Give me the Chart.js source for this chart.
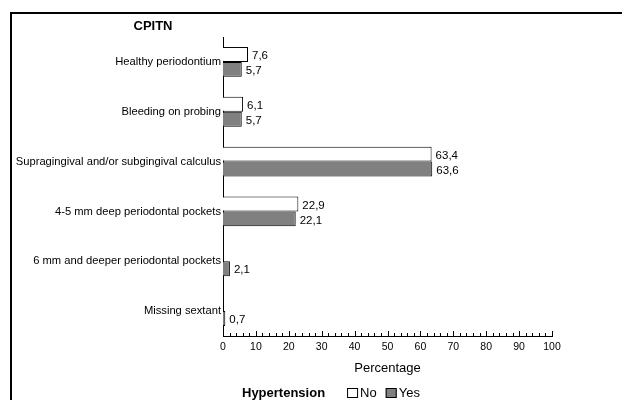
<!DOCTYPE html>
<html lang="en">
<head>
    <meta charset="UTF-8">
    <title>CPITN by Hypertension</title>
    <script src="https://cdn.jsdelivr.net/npm/chart.js"></script>
    <style>
        html, body {
            margin: 0;
            padding: 0;
            background: #fff;
        }
        #wrap {
            width: 622px;
            height: 400px;
            position: relative;
        }
    </style>
</head>
<body>

    <div id="wrap"><canvas id="cpitnChart"></canvas></div>

    <script>
        const categories = [
            'Healthy periodontium',
            'Bleeding on probing',
            'Supragingival and/or subgingival calculus',
            '4-5 mm deep periodontal pockets',
            '6 mm and deeper periodontal pockets',
            'Missing sextant'
        ];
        const noValues = [7.6, 6.1, 63.4, 22.9, 0, 0];
        const yesValues = [5.7, 5.7, 63.6, 22.1, 2.1, 0.7];
        const seriesNames = ['No', 'Yes'];
        const percentTicks = [0, 10, 20, 30, 40, 50, 60, 70, 80, 90, 100];

        const FONT = 'Arial, "Liberation Sans", sans-serif';

        // frame, title, value labels, inward ticks and the legend
        const extras = {
            id: 'extras',
            afterDraw(chart) {
                const ctx = chart.ctx;
                const xs = chart.scales.x;
                const area = chart.chartArea;
                ctx.save();

                // outer frame (only left and top edges are visible)
                ctx.strokeStyle = '#000';
                ctx.lineWidth = 2;
                ctx.beginPath();
                ctx.moveTo(11, 400);
                ctx.lineTo(11, 13);
                ctx.lineTo(622, 13);
                ctx.stroke();

                // title
                ctx.fillStyle = '#000';
                ctx.font = 'bold 13px ' + FONT;
                ctx.textAlign = 'center';
                ctx.textBaseline = 'middle';
                ctx.fillText('CPITN', 153, 26);

                // small ticks pointing up into the plot
                ctx.lineWidth = 1;
                ctx.beginPath();
                for (let v = 0; v <= 100; v += 2) {
                    const px = Math.round(xs.getPixelForValue(v)) + 0.5;
                    const len = v % 10 === 0 ? 5 : 3;
                    ctx.moveTo(px, area.bottom);
                    ctx.lineTo(px, area.bottom - len);
                }
                ctx.stroke();

                // value labels
                ctx.font = '11.5px ' + FONT;
                ctx.textAlign = 'left';
                chart.data.datasets.forEach((ds, i) => {
                    chart.getDatasetMeta(i).data.forEach((bar, j) => {
                        const v = ds.data[j];
                        if (!v) return;
                        ctx.fillText(v.toFixed(1).replace('.', ','), bar.x + 4, bar.y + 1.5);
                    });
                });

                // legend
                const ly = 393;
                let lx = 242;
                ctx.font = 'bold 13px ' + FONT;
                ctx.fillText('Hypertension', lx, ly);
                lx += ctx.measureText('Hypertension').width + 22;
                ctx.font = '13px ' + FONT;
                chart.data.datasets.forEach(ds => {
                    ctx.fillStyle = ds.backgroundColor;
                    ctx.fillRect(lx, ly - 5, 11, 10);
                    ctx.strokeStyle = '#000';
                    ctx.strokeRect(lx + 0.5, ly - 4.5, 10, 9);
                    ctx.fillStyle = '#000';
                    ctx.fillText(ds.label, lx + 13, ly);
                    lx += 13 + ctx.measureText(ds.label).width + 9;
                });

                ctx.restore();
            }
        };

        new Chart(document.getElementById('cpitnChart'), {
            type: 'bar',
            data: {
                labels: categories,
                datasets: [{
                    label: seriesNames[0],
                    data: noValues,
                    backgroundColor: '#ffffff',
                    borderColor: '#000000',
                    borderWidth: 1
                }, {
                    label: seriesNames[1],
                    data: yesValues,
                    backgroundColor: '#808080',
                    borderColor: '#000000',
                    borderWidth: 1
                }]
            },
            options: {
                indexAxis: 'y',
                responsive: true,
                maintainAspectRatio: false,
                animation: false,
                layout: {
                    padding: { left: 11, top: 37, right: 70, bottom: 24 }
                },
                datasets: {
                    bar: { categoryPercentage: 0.6, barPercentage: 1 }
                },
                plugins: {
                    legend: { display: false },
                    tooltip: { enabled: false }
                },
                scales: {
                    x: {
                        min: 0,
                        max: 100,
                        afterBuildTicks: (scale) => {
                            scale.ticks = percentTicks.map(v => ({ value: v }));
                        },
                        afterFit: (scale) => { scale.height = 40; },
                        grid: { display: false, drawTicks: false },
                        border: { display: true, color: '#000', width: 1 },
                        ticks: {
                            color: '#000',
                            font: { family: FONT, size: 10.5 },
                            padding: 5,
                            maxRotation: 0
                        },
                        title: {
                            display: true,
                            text: 'Percentage',
                            color: '#000',
                            font: { family: FONT, size: 13 },
                            padding: { top: 3, bottom: 0 }
                        }
                    },
                    y: {
                        afterFit: (scale) => { scale.width = 212; },
                        grid: { display: false, drawTicks: false },
                        border: { display: true, color: '#000', width: 1 },
                        ticks: {
                            color: '#000',
                            font: { family: FONT, size: 11.2 },
                            padding: 2,
                            autoSkip: false
                        }
                    }
                }
            },
            plugins: [extras]
        });
    </script>

</body>
</html>
